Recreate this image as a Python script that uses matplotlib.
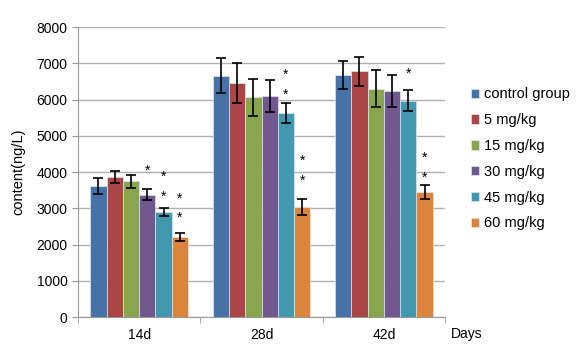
import numpy as np
import matplotlib
matplotlib.use("Agg")
import matplotlib.pyplot as plt

plt.rcParams['font.family'] = ['Liberation Sans', 'DejaVu Sans']

days = ["14d", "28d", "42d"]
groups = ["control group", "5 mg/kg", "15 mg/kg", "30 mg/kg", "45 mg/kg", "60 mg/kg"]
colors = ["#4572A7", "#AA4643", "#89A54E", "#71588F", "#4198AF", "#DB843D"]

# mean values, one row per group, one column per day
means = [
    [3620, 6660, 6680],
    [3860, 6450, 6780],
    [3750, 6060, 6300],
    [3370, 6100, 6235],
    [2900, 5630, 5960],
    [2210, 3035, 3450],
]
errs = [
    [215, 490, 385],
    [155, 545, 395],
    [180, 515, 510],
    [150, 440, 435],
    [120, 285, 290],
    [115, 215, 190],
]
# heights of significance stars (group index, day index, value)
stars = [
    (3, 0, 4030),
    (4, 0, 3870), (4, 0, 3320),
    (5, 0, 3275), (5, 0, 2740),
    (4, 1, 6695), (4, 1, 6125),
    (5, 1, 4310), (5, 1, 3750),
    (4, 2, 6700),
    (5, 2, 4395), (5, 2, 3845),
]

fig = plt.figure(figsize=(5.84, 3.63), dpi=100)
ax = fig.add_axes([0.1336, 0.1267, 0.762 - 0.1336, 0.9256 - 0.1267])

n = len(groups)
bw = 1.0 / 7.5
x = np.arange(len(days))
for i in range(n):
    xs = x - 3 * bw + (i + 0.5) * bw
    ax.bar(xs, means[i], bw, color=colors[i], edgecolor="#dce6f2", linewidth=0.5,
           label=groups[i], zorder=2)
    ax.errorbar(xs, means[i], yerr=errs[i], fmt="none", ecolor="black",
                elinewidth=1.2, capsize=3.5, capthick=1.2, zorder=3)

for gi, di, yv in stars:
    xs = x[di] - 3 * bw + (gi + 0.5) * bw
    ax.text(xs, yv, "*", ha="center", va="center", fontsize=10, zorder=4)

ax.set_xlim(-0.5, len(days) - 0.5)
ax.set_ylim(0, 8000)
ax.set_yticks(np.arange(0, 8001, 1000))
ax.set_xticks(x)
ax.set_xticklabels(days)
ax.set_xticks(np.arange(-0.5, len(days), 1.0), minor=True)
ax.tick_params(axis="x", which="major", length=0, labelsize=10, pad=8)
ax.tick_params(axis="x", which="minor", length=4, color="#999999")
ax.tick_params(axis="y", length=4, color="#999999", labelsize=10)
ax.yaxis.grid(True, color="#b0b0b0", linewidth=1.0, zorder=0)
ax.set_axisbelow(True)
for s in ["top", "right"]:
    ax.spines[s].set_visible(False)
ax.spines["left"].set_color("#999999")
ax.spines["bottom"].set_color("#999999")
ax.set_ylabel("content(ng/L)", fontsize=10.5, labelpad=8)

ax.text(1.06, -0.059, "Days", transform=ax.transAxes, fontsize=10, ha="center", va="center")

ax.legend(loc="center left", bbox_to_anchor=(1.054, 0.545), frameon=False, fontsize=10.5,
          handlelength=0.6, handleheight=0.6, handletextpad=0.3, labelspacing=0.81,
          borderaxespad=0)

fig.savefig("out.png", dpi=100)
